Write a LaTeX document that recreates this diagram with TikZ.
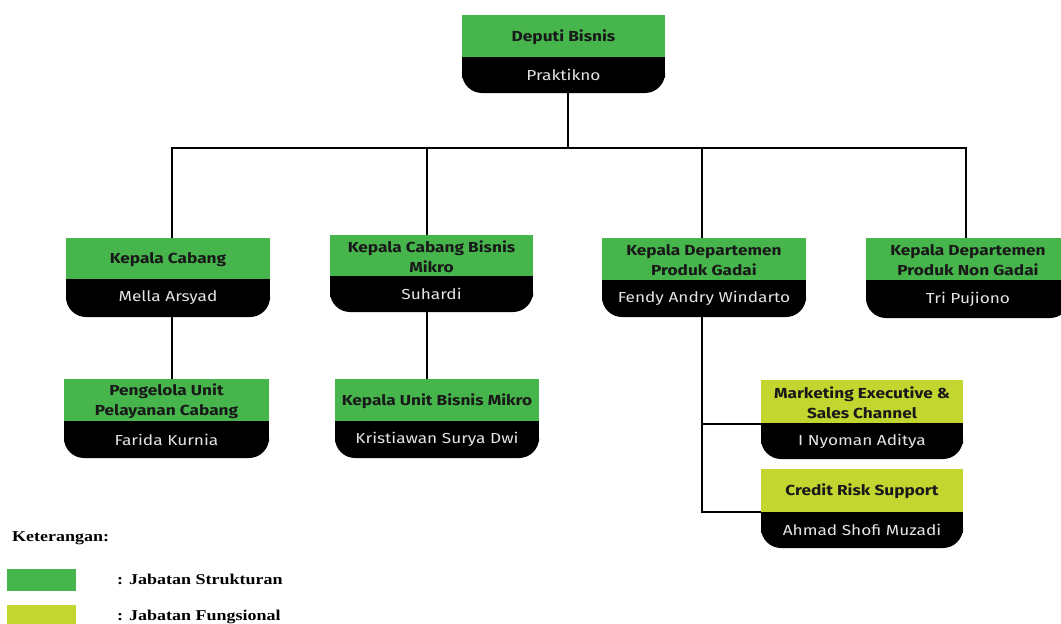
\documentclass[tikz,border=0pt]{standalone}
\usepackage{fontspec}
\newfontfamily\boxfont[FakeStretch=1.19]{Fira Sans}
\newfontfamily\legfont[FakeStretch=1.2]{Liberation Serif}
\definecolor{strukt}{RGB}{70,181,76}
\definecolor{fungs}{RGB}{194,214,47}
\definecolor{nametxt}{RGB}{228,228,228}
\newcommand{\orgunit}[9]{%
  \fill[#7] (#2,#4) rectangle (#3,#5);
  \fill[black,rounded corners=20] (#2,#5) rectangle (#3,#6);
  \fill[black] (#2,#5) rectangle (#3,#5+21);
  \node[titletext] (#1) at ({(#2+#3)/2},{(#4+#5)/2+1}) {#8};
  \node[nametext] (#1-p) at ({(#2+#3)/2},{(#5+#6)/2}) {#9};
}
\begin{document}
\begin{tikzpicture}[x=1pt,y=-1pt,
  titletext/.style={font=\boxfont\bfseries\fontsize{14.5}{20.5}\selectfont,align=center,text=black!90,inner sep=0pt},
  nametext/.style={font=\boxfont\fontsize{14.5}{18}\selectfont,text=nametxt,inner sep=0pt},
  conn/.style={line width=1.8pt,black},
  legtxt/.style={font=\legfont\bfseries\fontsize{15}{18}\selectfont,anchor=west,inner sep=0pt}]
\useasboundingbox[fill=white] (0,0) rectangle (1061,624);

\orgunit{top}{462}{665}{15}{57}{93}{strukt}{Deputi Bisnis}{Praktikno}
\orgunit{kc}{66}{270}{238}{279}{317}{strukt}{Kepala Cabang}{Mella Arsyad}
\orgunit{kcbm}{330}{533}{235}{276}{312}{strukt}{Kepala Cabang Bisnis\\Mikro}{Suhardi}
\orgunit{kdpg}{602}{806}{238}{280}{317}{strukt}{Kepala Departemen\\Produk Gadai}{Fendy Andry Windarto}
\orgunit{kdpng}{866}{1070}{238}{280}{318}{strukt}{Kepala Departemen\\Produk Non Gadai}{Tri Pujiono}
\orgunit{pupc}{64}{269}{379}{421}{458}{strukt}{Pengelola Unit\\Pelayanan Cabang}{Farida Kurnia}
\orgunit{kubm}{335}{539}{379}{421}{458}{strukt}{Kepala Unit Bisnis Mikro}{Kristiawan Surya Dwi}
\orgunit{mesc}{761}{963}{380}{423}{459}{fungs}{Marketing Executive \&\\Sales Channel}{I Nyoman Aditya}
\orgunit{crs}{761}{963}{469}{512}{548}{fungs}{Credit Risk Support}{Ahmad Shofi Muzadi}

% connection coordinates
\coordinate (top-out) at (568,93);
\coordinate (bus) at (568,148);
\coordinate (kc-in) at (172,238);
\coordinate (kcbm-in) at (427,235);
\coordinate (kdpg-in) at (702,238);
\coordinate (kdpng-in) at (966,238);
\coordinate (kc-out) at (172,317);
\coordinate (pupc-in) at (172,379);
\coordinate (kcbm-out) at (427,312);
\coordinate (kubm-in) at (427,379);
\coordinate (kdpg-out) at (702,317);
\coordinate (mesc-in) at (761,424);
\coordinate (crs-in) at (761,512);

\draw[conn] (top-out) -- (bus);
\draw[conn] (kc-in) |- (bus) -| (kdpng-in);
\draw[conn] (kcbm-in) -- (kcbm-in |- bus);
\draw[conn] (kdpg-in) -- (kdpg-in |- bus);
\draw[conn] (kc-out) -- (pupc-in);
\draw[conn] (kcbm-out) -- (kubm-in);
\draw[conn,line join=miter] (kdpg-out) |- (crs-in);
\draw[conn] (kdpg-out |- mesc-in) -- (mesc-in);

% legend
\node[legtxt] (ket) at (12,538) {Keterangan:};
\node[fill=strukt,minimum width=69pt,minimum height=22pt,inner sep=0pt,anchor=north west] (lg1) at (7,569) {};
\node[fill=fungs,minimum width=69pt,minimum height=22pt,inner sep=0pt,anchor=north west] (lg2) at (7,605) {};
\node[legtxt] (lt1) at (117,579) {: Jabatan Strukturan};
\node[legtxt] (lt2) at (117,617) {: Jabatan Fungsional};
\end{tikzpicture}
\end{document}
